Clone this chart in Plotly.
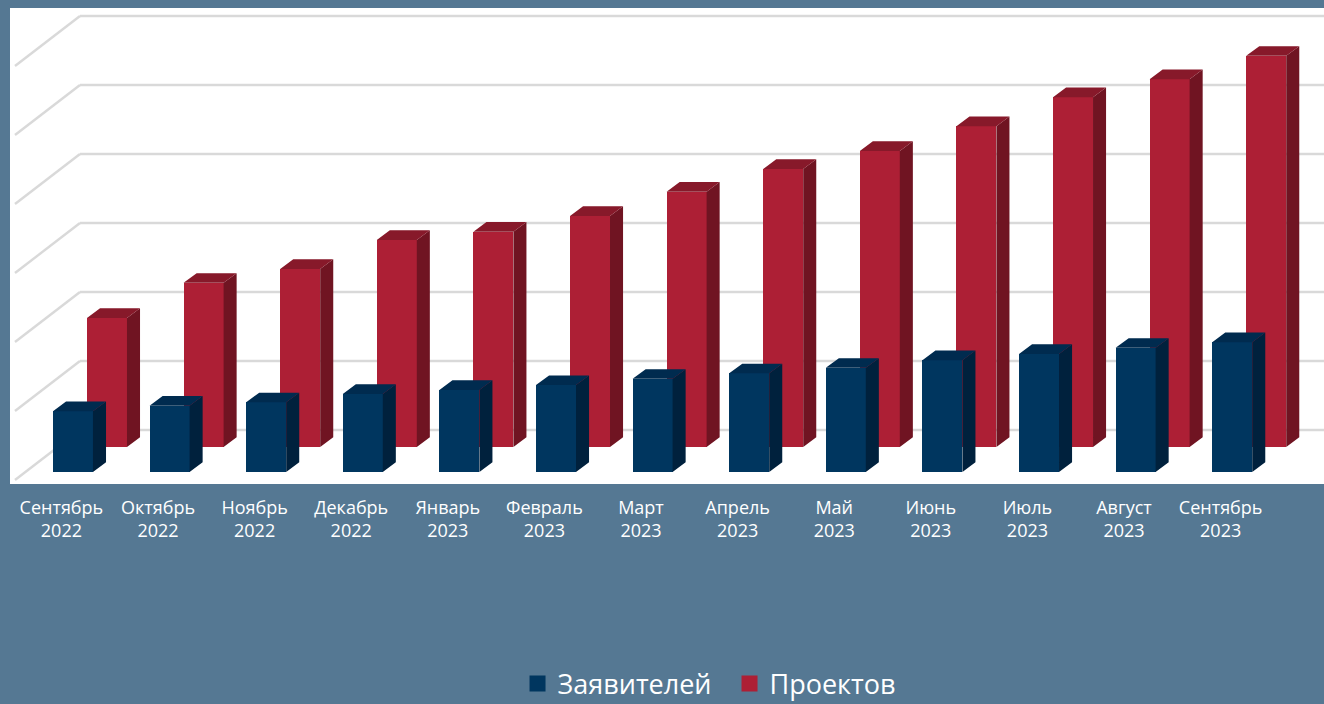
import plotly.graph_objects as go

months = ["Сентябрь<br>2022", "Октябрь<br>2022", "Ноябрь<br>2022", "Декабрь<br>2022",
          "Январь<br>2023", "Февраль<br>2023", "Март<br>2023", "Апрель<br>2023",
          "Май<br>2023", "Июнь<br>2023", "Июль<br>2023", "Август<br>2023", "Сентябрь<br>2023"]
applicants = [88, 96, 101, 113, 119, 126, 135, 143, 151, 162, 171, 180, 188]
projects = [187, 238, 258, 300, 312, 335, 370, 403, 429, 465, 507, 533, 567]

# styling / pseudo-3D geometry constants
BG = "#557893"
BLUE_FRONT, BLUE_SIDE, BLUE_TOP = "#00365f", "#00213d", "#002b4f"
RED_FRONT, RED_SIDE, RED_TOP = "#ad1f35", "#701422", "#87192a"
W = 0.414          # bar width (x units)
DX, DY = 0.135, 14  # depth offset of side/top faces
ROFF, RBASE = 0.352, 36.2  # back row offset
WALL0, STEP, NGRID = 60.9, 100, 7
DIAG = 72.5

xs = list(range(len(months)))


def side_top(xc, base, vals):
    sx, sy, tx, ty = [], [], [], []
    for c, v in zip(xc, vals):
        r, l, top = c + W / 2, c - W / 2, base + v
        sx += [r, r + DX, r + DX, r, r, None]
        sy += [base, base + DY, top + DY, top, base, None]
        tx += [l, l + DX, r + DX, r, l, None]
        ty += [top, top + DY, top + DY, top, top, None]
    return sx, sy, tx, ty


fig = go.Figure()

rx = [x + ROFF for x in xs]
fig.add_bar(x=rx, y=projects, base=RBASE, width=W, name="Проектов", showlegend=False,
            marker=dict(color=RED_FRONT, line=dict(width=0)))
sx, sy, tx, ty = side_top(rx, RBASE, projects)
fig.add_scatter(x=sx, y=sy, fill="toself", fillcolor=RED_SIDE, mode="lines",
                line=dict(width=0, color=RED_SIDE), showlegend=False, hoverinfo="skip")
fig.add_scatter(x=tx, y=ty, fill="toself", fillcolor=RED_TOP, mode="lines",
                line=dict(width=0, color=RED_TOP), showlegend=False, hoverinfo="skip")

fig.add_bar(x=xs, y=applicants, base=0, width=W, name="Заявителей", showlegend=False,
            marker=dict(color=BLUE_FRONT, line=dict(width=0)))
sx, sy, tx, ty = side_top(xs, 0, applicants)
fig.add_scatter(x=sx, y=sy, fill="toself", fillcolor=BLUE_SIDE, mode="lines",
                line=dict(width=0, color=BLUE_SIDE), showlegend=False, hoverinfo="skip")
fig.add_scatter(x=tx, y=ty, fill="toself", fillcolor=BLUE_TOP, mode="lines",
                line=dict(width=0, color=BLUE_TOP), showlegend=False, hoverinfo="skip")

# legend entries
fig.add_scatter(x=[None], y=[None], mode="markers", name="Заявителей",
                marker=dict(symbol="square", size=16, color=BLUE_FRONT))
fig.add_scatter(x=[None], y=[None], mode="markers", name="Проектов",
                marker=dict(symbol="square", size=16, color=RED_FRONT))

shapes = []
wall_x = (80 - 10) / 1314
front_x = (15 - 10) / 1314
for k in range(NGRID):
    yv = WALL0 + STEP * k
    shapes.append(dict(type="line", xref="paper", yref="y", x0=wall_x, x1=1, y0=yv, y1=yv,
                       line=dict(color="#d9d9d9", width=2.4), layer="below"))
    shapes.append(dict(type="line", xref="paper", yref="y", x0=front_x, x1=wall_x,
                       y0=yv - DIAG, y1=yv, line=dict(color="#d9d9d9", width=2.4), layer="below"))

fig.update_layout(
    width=1324, height=704,
    margin=dict(l=10, r=0, t=8, b=220),
    paper_bgcolor=BG, plot_bgcolor="white",
    barmode="overlay", bargap=0,
    shapes=shapes,
    font=dict(family="Open Sans", color="white"),
    xaxis=dict(range=[-0.652, 12.95], tickvals=[x - 0.12 for x in xs], ticktext=months,
               showgrid=False, zeroline=False, showline=False, ticks="",
               ticklabelstandoff=11,
               tickfont=dict(size=18, color="white", family="Open Sans")),
    yaxis=dict(range=[-17.4, 672.5], showgrid=False, zeroline=False, showticklabels=False,
               ticks=""),
    legend=dict(orientation="h", x=0.551, xanchor="center", xref="container",
                y=0.0285, yanchor="middle", yref="container",
                entrywidth=167,
                font=dict(size=27, color="white", family="Open Sans"),
                bgcolor="rgba(0,0,0,0)", itemclick=False, itemsizing="trace"),
    showlegend=True,
)

fig.write_html(
    "out.html",
    config={"displayModeBar": False},
    post_script="document.body.style.margin='0';document.body.style.background='" + BG + "';"
                "document.documentElement.style.background='" + BG + "';"
                "document.body.style.overflow='hidden';",
)
